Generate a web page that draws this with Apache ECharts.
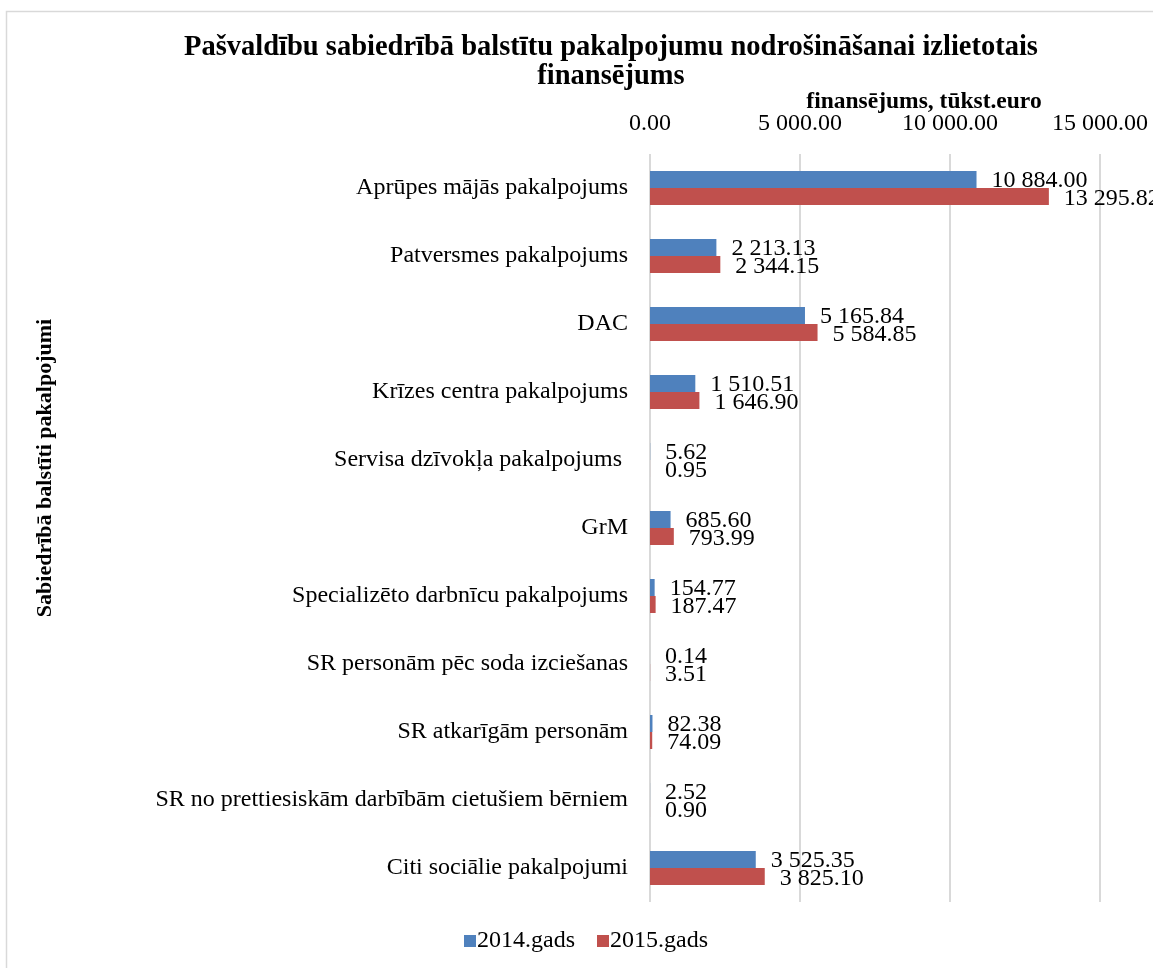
<!DOCTYPE html>
<html>
<head>
<meta charset="utf-8">
<script src="https://cdn.jsdelivr.net/npm/echarts@6/dist/echarts.min.js"></script>
<style>
  html, body { margin: 0; padding: 0; background: #fff; }
  #chart { width: 1153px; height: 968px; }
</style>
</head>
<body>
<div id="chart"></div>
<script>
const categories = [
  'Aprūpes mājās pakalpojums',
  'Patversmes pakalpojums',
  'DAC',
  'Krīzes centra pakalpojums',
  'Servisa dzīvokļa pakalpojums ',
  'GrM',
  'Specializēto darbnīcu pakalpojums',
  'SR personām pēc soda izciešanas',
  'SR atkarīgām personām',
  'SR no prettiesiskām darbībām cietušiem bērniem',
  'Citi sociālie pakalpojumi'
]
const values2014 = [10884.00, 2213.13, 5165.84, 1510.51, 5.62, 685.60, 154.77, 0.14, 82.38, 2.52, 3525.35]
const values2015 = [13295.82, 2344.15, 5584.85, 1646.90, 0.95, 793.99, 187.47, 3.51, 74.09, 0.90, 3825.10]

const font = '"Liberation Serif", "Times New Roman", serif'

// 10884 -> "10 884.00"
function fmt (v) {
  const parts = Number(v).toFixed(2).split('.')
  return parts[0].replace(/\B(?=(\d{3})+(?!\d))/g, ' ') + '.' + parts[1]
}

const chart = echarts.init(document.getElementById('chart'))
chart.setOption({
  animation: false,
  backgroundColor: '#fff',
  title: {
    text: 'Pašvaldību sabiedrībā balstītu pakalpojumu nodrošināšanai izlietotais\nfinansējums',
    left: 606,
    top: 28,
    textAlign: 'center',
    textStyle: { fontFamily: font, fontSize: 28.5, fontWeight: 'bold', color: '#000', lineHeight: 29 }
  },
  graphic: [
    {
      type: 'rect',
      shape: { x: 6.5, y: 11.5, width: 1300, height: 1100 },
      style: { fill: 'none', stroke: '#d9d9d9', lineWidth: 1.5 },
      silent: true
    },
    {
      type: 'text',
      x: 924, y: 102,
      style: {
        text: 'finansējums, tūkst.euro',
        font: 'bold 23.5px ' + font,
        fill: '#000',
        align: 'center',
        verticalAlign: 'middle'
      }
    },
    {
      type: 'text',
      x: 45, y: 468,
      rotation: Math.PI / 2,
      style: {
        text: 'Sabiedrībā balstīti pakalpojumi',
        font: 'bold 22px ' + font,
        fill: '#000',
        align: 'center',
        verticalAlign: 'middle'
      }
    }
  ],
  legend: {
    left: 459,
    top: 924,
    itemWidth: 12,
    itemHeight: 12,
    itemGap: 22,
    icon: 'rect',
    textStyle: { fontFamily: font, fontSize: 24, color: '#000', padding: [0, 0, 0, -4] },
    data: ['2014.gads', '2015.gads']
  },
  grid: { left: 650, right: 53, top: 154, bottom: 66, containLabel: false },
  xAxis: {
    type: 'value',
    position: 'top',
    min: 0,
    max: 15000,
    interval: 5000,
    axisLine: { show: false },
    axisTick: { show: false },
    axisLabel: {
      margin: 18,
      fontFamily: font,
      fontSize: 24,
      color: '#000',
      formatter: fmt
    },
    splitLine: { show: true, lineStyle: { color: '#d9d9d9', width: 2 } }
  },
  yAxis: {
    type: 'category',
    inverse: true,
    data: categories,
    axisLine: { show: false },
    axisTick: { show: false },
    axisLabel: { margin: 22, fontFamily: font, fontSize: 24, color: '#000' }
  },
  series: [
    {
      name: '2014.gads',
      type: 'bar',
      data: values2014,
      barWidth: 17,
      barGap: '0%',
      itemStyle: { color: '#4f81bd' },
      label: {
        show: true,
        position: 'right',
        distance: 15,
        offset: [0, 1],
        fontFamily: font,
        fontSize: 24,
        color: '#000',
        formatter: p => fmt(p.value)
      }
    },
    {
      name: '2015.gads',
      type: 'bar',
      data: values2015,
      barWidth: 17,
      barGap: '0%',
      itemStyle: { color: '#c0504d' },
      label: {
        show: true,
        position: 'right',
        distance: 15,
        offset: [0, 2],
        fontFamily: font,
        fontSize: 24,
        color: '#000',
        formatter: p => fmt(p.value)
      }
    }
  ]
})
</script>
</body>
</html>
